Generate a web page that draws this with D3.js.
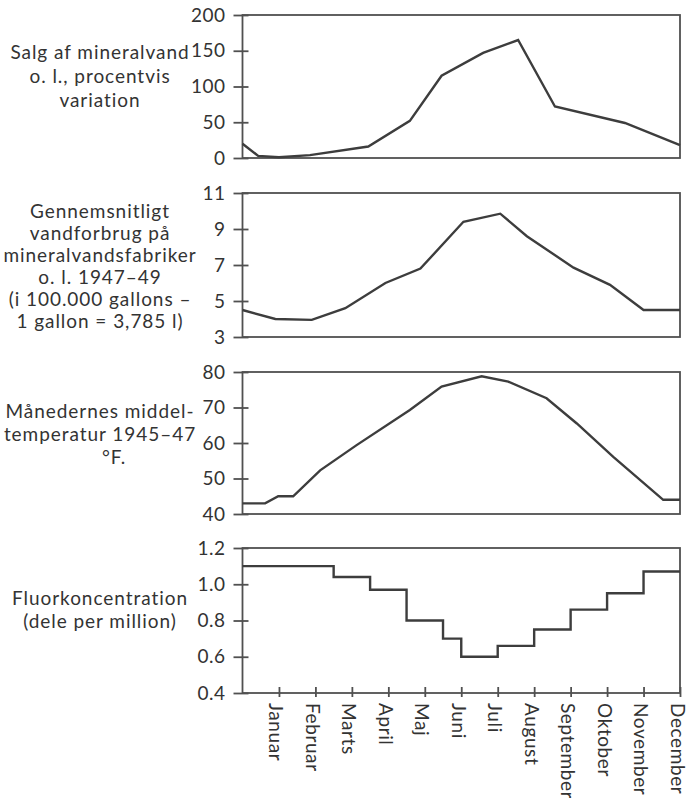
<!DOCTYPE html>
<html>
<head>
<meta charset="utf-8">
<script src="https://cdn.jsdelivr.net/npm/d3@7"></script>
<style>
  html, body { margin: 0; padding: 0; background: #fff; }
  svg { display: block; }
  text { font-family: Lato, "Open Sans", sans-serif; fill: #333; }
</style>
</head>
<body>
<script>
// Month names along the shared x axis (tick i marks the end of month i)
const months = ["Januar", "Februar", "Marts", "April", "Maj", "Juni", "Juli",
  "August", "September", "Oktober", "November", "December"];

// Sales of mineral water, percent variation (position in months, value)
const salesPos = [0, 0.43, 1.0, 1.85, 3.45, 4.59, 5.46, 6.6, 7.56, 8.57, 10.49, 12];
const salesPct = [20, 3, 1, 4, 16, 52, 115, 147, 165, 72, 49, 18];

// Average water use at mineral water plants 1947-49 (100,000 gallons)
const waterPos = [0, 0.9, 1.9, 2.82, 3.92, 4.88, 6.06, 7.07, 7.8, 9.08, 10.08, 11.0, 12];
const waterUse = [4.5, 4.0, 3.95, 4.6, 6.0, 6.8, 9.4, 9.85, 8.6, 6.85, 5.9, 4.5, 4.5];

// Monthly mean temperature 1945-47 (°F)
const tempPos = [0, 0.62, 0.98, 1.39, 2.13, 3.13, 4.59, 5.46, 6.56, 7.29, 8.34, 9.17, 10.17, 11.54, 12];
const tempF = [43, 43, 45, 45, 52.3, 59.4, 69.3, 75.9, 78.8, 77.3, 72.6, 65.5, 56.1, 44, 44];

// Fluoride concentration (ppm): each value holds from its edge to the next
const fluorEdges = [0, 2.5, 3.5, 4.5, 5.5, 6, 7, 8, 9, 10, 11];
const fluorPpm = [1.10, 1.04, 0.97, 0.80, 0.70, 0.60, 0.66, 0.75, 0.86, 0.95, 1.07];

// Tick values per panel
const salesTicks = [0, 50, 100, 150, 200];
const waterTicks = [3, 5, 7, 9, 11];
const tempTicks = [40, 50, 60, 70, 80];
const fluorTicks = [0.4, 0.6, 0.8, 1.0, 1.2];

// Left-hand captions
const salesTitle = ["Salg af mineralvand", "o. l., procentvis", "variation"];
const waterTitle = ["Gennemsnitligt", "vandforbrug på", "mineralvandsfabriker",
  "o. l. 1947–49", "(i 100.000 gallons –", "1 gallon = 3,785 l)"];
const tempTitle = ["Månedernes middel-", "temperatur 1945–47", "°F."];
const fluorTitle = ["Fluorkoncentration", "(dele per million)"];

const W = 689, H = 798;
const plotLeft = 242.5, plotRight = 680;
const ink = "#3d3d3d";

const svg = d3.select("body").append("svg")
  .attr("width", W).attr("height", H);

const x = d3.scaleLinear().domain([0, 12]).range([plotLeft, plotRight]);

const panels = [
  { top: 15, height: 143, domain: [0, 200], ticks: salesTicks, fmt: d3.format("d"),
    pos: salesPos, vals: salesPct, title: salesTitle, titleY: [52, 76, 100], step: false },
  { top: 193, height: 144, domain: [3, 11], ticks: waterTicks, fmt: d3.format("d"),
    pos: waterPos, vals: waterUse, title: waterTitle,
    titleY: [211, 233, 255, 277, 299, 321], step: false },
  { top: 372, height: 142, domain: [40, 80], ticks: tempTicks, fmt: d3.format("d"),
    pos: tempPos, vals: tempF, title: tempTitle, titleY: [411, 434, 457], step: false },
  { top: 548, height: 145, domain: [0.4, 1.2], ticks: fluorTicks, fmt: d3.format(".1f"),
    pos: fluorEdges.concat([12]), vals: fluorPpm.concat([fluorPpm[fluorPpm.length - 1]]),
    title: fluorTitle, titleY: [598, 621], step: true }
];

panels.forEach((p, i) => {
  const y = d3.scaleLinear().domain(p.domain).range([p.top + p.height, p.top]);
  const g = svg.append("g");

  // frame
  g.append("rect")
    .attr("x", plotLeft).attr("y", p.top)
    .attr("width", plotRight - plotLeft).attr("height", p.height)
    .attr("fill", "none").attr("stroke", "#505050").attr("stroke-width", 1.8);

  // left axis with ticks crossing the frame
  const ax = g.append("g")
    .attr("transform", `translate(${plotLeft},0)`)
    .call(d3.axisLeft(y).tickValues(p.ticks).tickFormat(p.fmt)
      .tickSizeInner(9).tickSizeOuter(0).tickPadding(8));
  ax.select(".domain").remove();
  ax.selectAll(".tick line").attr("x1", 6).attr("stroke", "#505050").attr("stroke-width", 1.8);
  ax.selectAll(".tick text")
    .attr("font-size", 19).attr("fill", "#333")
    .style("font-family", "Lato, sans-serif")
    .style("letter-spacing", "0.5px");

  // data line
  const line = d3.line()
    .x(d => x(d[0])).y(d => y(d[1]))
    .curve(p.step ? d3.curveStepAfter : d3.curveLinear);
  g.append("path")
    .datum(p.pos.map((m, k) => [m, p.vals[k]]))
    .attr("d", line)
    .attr("fill", "none").attr("stroke", ink)
    .attr("stroke-width", 2.4).attr("stroke-linejoin", "miter");

  // caption
  const t = g.append("g");
  p.title.forEach((s, k) => {
    t.append("text")
      .attr("x", s === "°F." ? 114 : 100)
      .attr("y", p.titleY[k])
      .attr("dy", "0.35em")
      .attr("text-anchor", "middle")
      .attr("font-size", 19)
      .style("letter-spacing", "0.95px")
      .text(s);
  });

  // month axis under the last panel
  if (i === panels.length - 1) {
    const bottom = p.top + p.height;
    const bx = g.append("g")
      .attr("transform", `translate(0,${bottom})`)
      .call(d3.axisBottom(x).tickValues(d3.range(1, 13)).tickFormat((d) => months[d - 1])
        .tickSizeInner(4).tickSizeOuter(0).tickPadding(10));
    bx.select(".domain").remove();
    bx.selectAll(".tick line").attr("y1", -6).attr("stroke", "#505050").attr("stroke-width", 1.8);
    bx.selectAll(".tick text")
      .attr("font-size", 19).attr("fill", "#333")
      .style("font-family", "Lato, sans-serif")
      .style("letter-spacing", "0.6px")
      .attr("text-anchor", "start")
      .attr("dy", null)
      .attr("dominant-baseline", "central")
      .attr("transform", "rotate(90)")
      .attr("x", 10).attr("y", 2.5);
  }
});
</script>
</body>
</html>
